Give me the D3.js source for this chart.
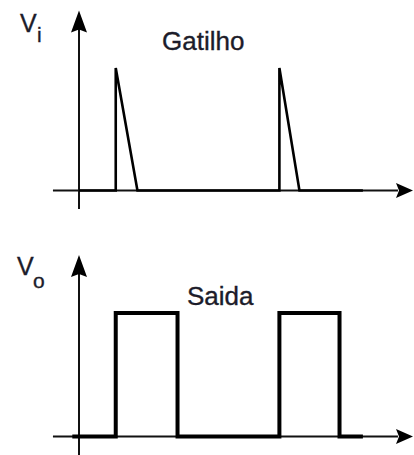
<!DOCTYPE html>
<html>
<head>
<meta charset="utf-8">
<script src="https://cdn.jsdelivr.net/npm/d3@7.9.0/dist/d3.min.js"></script>
<style>
  html, body { margin: 0; padding: 0; background: #fff; }
  svg text { font-family: "Liberation Sans", Arial, sans-serif; fill: #1c1c2a; stroke: #1c1c2a; stroke-width: 0.35; }
</style>
</head>
<body>
<svg id="chart" width="414" height="455"></svg>
<script>
// trigger input (Gatilho): time / level pairs
const triggerTime  = [0, 1.1, 1.1, 1.75, 6.0, 6.0, 6.6, 8.5];
const triggerLevel = [0, 0,   1,   0,    0,   1,   0,   0];

// output (Saida): square pulses
const outputTime  = [-0.2, 1.1, 1.1, 2.95, 2.95, 6.0, 6.0, 7.8, 7.8, 8.5];
const outputLevel = [0,    0,   1,   1,    0,    0,   1,   1,   0,   0];

const panelNames = ['Gatilho', 'Saida'];
const axisLabels = [['V', 'i'], ['V', 'o']];

const width = 414, height = 455;
const svg = d3.select('#chart');

// shared time scale
const xScale = d3.scaleLinear().domain([0, 10]).range([79, 413]);

const panels = [
  { y: d3.scaleLinear().domain([0, 1]).range([190.5, 68]), time: triggerTime, level: triggerLevel, sw: 2.6, name: panelNames[0], lab: axisLabels[0],
    labX: 20, labY: 32, subX: 37, subY: 42, nameX: 162, nameY: 50 },
  { y: d3.scaleLinear().domain([0, 1]).range([436.5, 313]), time: outputTime, level: outputLevel, sw: 4, name: panelNames[1], lab: axisLabels[1],
    labX: 17, labY: 275, subX: 33, subY: 288, nameX: 187, nameY: 305 }
];

panels.forEach((p) => {
  const g = svg.append('g');
  const y = p.y;
  const x0 = xScale(0), y0 = y(0);

  // axes
  g.append('line')
    .attr('x1', xScale(-0.78)).attr('x2', xScale(9.55))
    .attr('y1', y0).attr('y2', y0)
    .attr('stroke', '#111').attr('stroke-width', 2);
  g.append('line')
    .attr('x1', x0).attr('x2', x0)
    .attr('y1', y(-0.15)).attr('y2', y(1.33))
    .attr('stroke', '#111').attr('stroke-width', 2);

  // arrow heads
  const xt = xScale(10);
  g.append('path')
    .attr('d', `M${xt},${y0} L${xt - 17},${y0 - 7.5} L${xt - 14},${y0} L${xt - 17},${y0 + 7.5} Z`)
    .attr('fill', '#000');
  const yt = y(1.47);
  g.append('path')
    .attr('d', `M${x0},${yt} L${x0 - 8},${yt + 22} L${x0},${yt + 19} L${x0 + 8},${yt + 22} Z`)
    .attr('fill', '#000');

  // signal
  const line = d3.line().x((d) => xScale(d[0])).y((d) => y(d[1]));
  g.append('path')
    .attr('d', line(d3.zip(p.time, p.level)))
    .attr('fill', 'none')
    .attr('stroke', '#000')
    .attr('stroke-width', p.sw)
    .attr('stroke-linejoin', 'miter');

  // labels
  g.append('text').attr('x', p.labX).attr('y', p.labY)
    .attr('font-size', 25).text(p.lab[0]);
  g.append('text').attr('x', p.subX).attr('y', p.subY)
    .attr('font-size', 21).text(p.lab[1]);
  g.append('text').attr('x', p.nameX).attr('y', p.nameY)
    .attr('font-size', 26).text(p.name);
});
</script>
</body>
</html>
